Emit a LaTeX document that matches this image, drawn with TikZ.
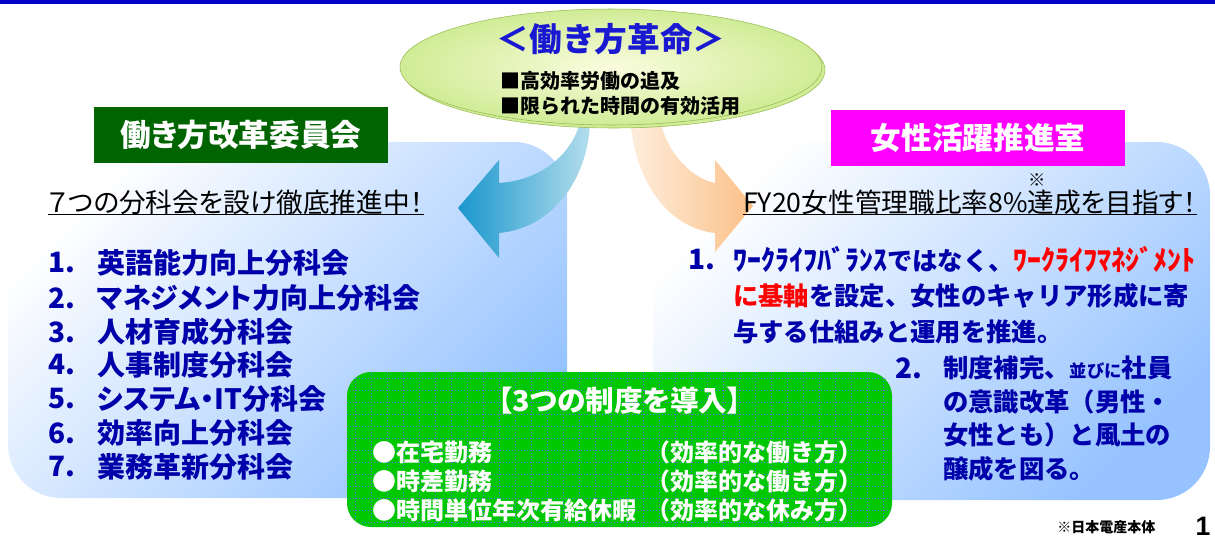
\documentclass[tikz,border=0pt]{standalone}
\usepackage{fontspec}
\setmainfont{Noto Sans CJK JP}[RawFeature=+palt]
\newfontfamily\fixjp{Noto Sans CJK JP}
\newfontfamily\pagefont{Liberation Sans}
\definecolor{barblue}{RGB}{0,0,200}
\definecolor{textblue}{RGB}{0,0,170}
\definecolor{titleblue}{RGB}{25,25,210}
\definecolor{panelblue}{RGB}{150,195,255}
\definecolor{headgreen}{RGB}{0,100,0}
\definecolor{headpink}{RGB}{255,0,255}
\definecolor{boxgreen}{RGB}{0,200,0}
\definecolor{gridblue}{RGB}{105,105,235}
\definecolor{ovalpale}{RGB}{250,252,222}
\definecolor{ovalgreen}{RGB}{208,236,150}
\definecolor{ovaledge}{RGB}{150,185,80}
\definecolor{arrowblue}{RGB}{25,150,205}
\definecolor{arrowpale}{RGB}{180,222,236}
\definecolor{arrowcream}{RGB}{253,238,222}
\definecolor{arroworange}{RGB}{252,192,135}

\begin{document}
\begin{tikzpicture}[x=0.75pt,y=-0.75pt]
      \tikzset{panel/.style={rounded corners=40pt,
          top color=white,
          bottom color=panelblue,
          shading angle=45},
        header/.style={fill=#1, text=white, inner sep=0pt,
          minimum width=220pt, minimum height=42pt,
          font=\fontsize{23}{23}\bfseries},
        num/.style={anchor=west, inner sep=0pt, text=textblue,
          font=\fontsize{21}{21}\bfseries},
        item/.style={anchor=west, inner sep=0pt, text=textblue,
          font=\fontsize{21}{21}\bfseries},
        rline/.style={anchor=west, inner sep=0pt, text=textblue,
          font=\fixjp\fontsize{19}{19}\bfseries},
        goal/.style={anchor=west, inner sep=0pt,
          font=\fontsize{20}{20}\selectfont},
        measure/.style={anchor=west, inner sep=0pt, text=white,
          font=\fixjp\fontsize{18}{18}\bfseries},
        gridline/.style={gridblue, dash pattern=on 0.75pt off 1.5pt, line width=0.75pt}
      }
      \useasboundingbox (0,0) rectangle (1215,540);
      \fill [barblue] (0,0) rectangle (1215,4);

      % two panels
      \shade [panel] (8,142) rectangle (567,498);
      \shade [panel] (653,142) rectangle (1210,500);

      % arrows out of the oval
      \shade [left color=arrowblue, right color=arrowpale]
        (458,208) -- (499,160) -- (499,183)
        .. controls (545,180) and (575,150) .. (581,118) -- (590,118)
        .. controls (590,175) and (555,228) .. (499,233) -- (499,258) -- cycle;
      \shade [left color=arrowcream, right color=arroworange]
        (630,118) .. controls (635,185) and (670,228) .. (715,233)
        -- (715,252) -- (753,206) -- (715,160) -- (715,183)
        .. controls (690,178) and (665,150) .. (660,118) -- cycle;

      % oval
      \filldraw [fill=ovalgreen, draw=ovaledge] (614,70) ellipse [x radius=211, y radius=58];
      \shadedraw [inner color=ovalpale, outer color=ovalgreen, draw=ovaledge]
        (611,67) ellipse [x radius=211, y radius=58];
      \node [inner sep=0pt, text=titleblue, font=\fixjp\fontsize{24.5}{24.5}\bfseries] (revo) at (611,39) {＜働き方革命＞};
      \node [anchor=west, inner sep=0pt, font=\fixjp\fontsize{15}{15}\bfseries] (aim1) at (500,81) {■高効率労働の追及};
      \node [anchor=west, inner sep=0pt, font=\fixjp\fontsize{15}{15}\bfseries] (aim2) at (500,106) {■限られた時間の有効活用};

      \node [header=headgreen] (committee) at (241,135) {働き方改革委員会};
      \node [header=headpink] (office) at (978,138) {女性活躍推進室};

      % left side
      \node [goal] (goalL) at (48,202) {７つの分科会を設け徹底推進中！};
      \draw [line width=1.1pt] (goalL.south west) -- (goalL.south east);
      \node [num] (n1) at (48,263) {1.};
      \node [item] (s1) at (97,263) {英語能力向上分科会};
      \node [num] (n2) at (48,298) {2.};
      \node [item] (s2) at (97,298) {マネジメント力向上分科会};
      \node [num] (n3) at (48,332) {3.};
      \node [item] (s3) at (97,332) {人材育成分科会};
      \node [num] (n4) at (48,365) {4.};
      \node [item] (s4) at (97,365) {人事制度分科会};
      \node [num] (n5) at (48,399) {5.};
      \node [item] (s5) at (97,399) {システム・IT分科会};
      \node [num] (n6) at (48,433) {6.};
      \node [item] (s6) at (97,433) {効率向上分科会};
      \node [num] (n7) at (48,467) {7.};
      \node [item] (s7) at (97,467) {業務革新分科会};

      % right side
      \node [goal] (goalR) at (743,202) {FY20女性管理職比率8\%達成を目指す！};
      \draw [line width=1.1pt] (goalR.south west) -- (goalR.south east);
      \node [inner sep=0pt, font=\fontsize{13}{13}\selectfont] (mark) at (1037,180) {※};
      \node [num] (w1) at (688,260) {1.};
      \node [rline] (w1a) at (733,260) {{\fontsize{21}{21}\selectfont ﾜｰｸﾗｲﾌﾊﾞﾗﾝｽ}ではなく、{\fontsize{21}{21}\selectfont\color{red}ﾜｰｸﾗｲﾌﾏﾈｼﾞﾒﾝﾄ}};
      \node [rline] (w1b) at (733,296) {{\color{red}に基軸}を設定、女性のキャリア形成に寄};
      \node [rline] (w1c) at (733,332) {与する仕組みと運用を推進。};
      \node [num] (w2) at (895,368) {2.};
      \node [rline] (w2a) at (943,368) {制度補完、{\fontsize{13}{13}\selectfont 並びに}社員};
      \node [rline] (w2b) at (943,402) {の意識改革（男性・};
      \node [rline] (w2c) at (943,435) {女性とも）と風土の};
      \node [rline] (w2d) at (943,469) {醸成を図る。};

      % green box
      \fill [boxgreen, rounded corners=18pt] (347,372) rectangle (892,527);
      \begin{scope}
        \clip [rounded corners=18pt] (347,372) rectangle (892,527);
        \foreach \gx in {355,371,...,891} \draw [gridline] (\gx,372) -- (\gx,527);
        \foreach \gy in {378,390,...,526} \draw [gridline] (347,\gy) -- (892,\gy);
      \end{scope}
      \node [inner sep=0pt, text=white, font=\fontsize{21.5}{21.5}\bfseries] (three) at (620,401) {【3つの制度を導入】};
      \node [measure] (m1) at (372,452) {●在宅勤務};
      \node [measure] (e1) at (646,452) {（効率的な働き方）};
      \node [measure] (m2) at (372,481) {●時差勤務};
      \node [measure] (e2) at (646,481) {（効率的な働き方）};
      \node [measure] (m3) at (372,510) {●時間単位年次有給休暇};
      \node [measure] (e3) at (646,510) {（効率的な休み方）};

      \node [anchor=west, inner sep=0pt, font=\fontsize{10.5}{10.5}\bfseries] (scope) at (1057,527) {※日本電産本体};
      \node [inner sep=0pt, font=\pagefont\fontsize{20}{20}\bfseries] (pageno) at (1203,526) {1};
    \end{tikzpicture}
\end{document}
